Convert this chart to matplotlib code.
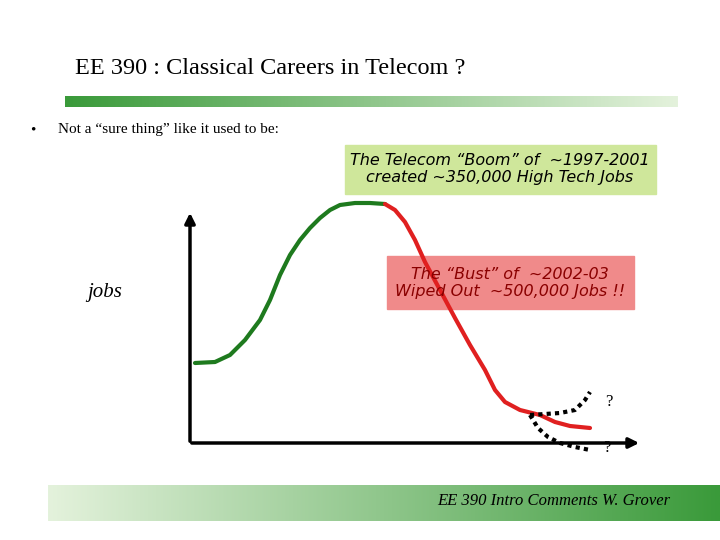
import matplotlib.pyplot as plt
import numpy as np
from matplotlib.colors import LinearSegmentedColormap

# curve points (pixel coordinates)
boom_x = [195, 215, 230, 245, 260, 270, 280, 290, 300, 310, 320, 330, 340, 355, 370, 385]
boom_y = [363, 362, 355, 340, 320, 300, 275, 255, 240, 228, 218, 210, 205, 203, 203, 204]
bust_x = [385, 395, 405, 415, 425, 440, 455, 470, 485, 495, 505, 520, 540, 555, 570, 590]
bust_y = [204, 210, 222, 240, 262, 290, 318, 345, 370, 390, 402, 410, 415, 422, 426, 428]
up_x = [530, 545, 560, 575, 585, 590]
up_y = [415, 414, 413, 410, 400, 392]
down_x = [530, 538, 548, 560, 575, 590]
down_y = [415, 428, 437, 443, 447, 450]

fig = plt.figure(figsize=(7.2, 5.4), dpi=100)
ax = fig.add_axes([0, 0, 1, 1])
ax.set_xlim(0, 720)
ax.set_ylim(540, 0)
ax.axis('off')

grad = np.linspace(0, 1, 256).reshape(1, -1)
cmap = LinearSegmentedColormap.from_list('g', ['#3a9a3a', '#e4f2dc'])
ax.imshow(grad, cmap=cmap, extent=[65, 678, 107, 96], aspect='auto')
ax.imshow(grad[:, ::-1], cmap=cmap, extent=[48, 720, 521, 485], aspect='auto')
ax.set_xlim(0, 720)
ax.set_ylim(540, 0)

ax.text(75, 68, 'EE 390 : Classical Careers in Telecom ?', fontsize=17.5,
        family='Liberation Serif', va='center')
ax.text(30, 130, '•', fontsize=11, family='Liberation Serif', va='center')
ax.text(58, 130, 'Not a \u201csure thing\u201d like it used to be:', fontsize=11,
        family='Liberation Serif', va='center')

# axes arrows
ax.annotate('', xy=(190, 210), xytext=(190, 444),
            arrowprops=dict(arrowstyle='-|>', lw=2.5, color='black', mutation_scale=15))
ax.annotate('', xy=(642, 443), xytext=(189, 443),
            arrowprops=dict(arrowstyle='-|>', lw=2.5, color='black', mutation_scale=15))

ax.plot(boom_x, boom_y, color='#1e7a1e', lw=3, solid_capstyle='round')
ax.plot(bust_x, bust_y, color='#e02020', lw=3, solid_capstyle='round')
ax.plot(up_x, up_y, color='black', lw=3, ls=(0, (1, 1)))
ax.plot(down_x, down_y, color='black', lw=3, ls=(0, (1, 1)))

ax.text(605, 402, '?', fontsize=12, family='Liberation Serif', va='center')
ax.text(603, 448, '?', fontsize=12, family='Liberation Serif', va='center')
ax.text(105, 293, 'jobs', fontsize=15, style='italic', family='Liberation Serif',
        ha='center', va='center')

ax.add_patch(plt.Rectangle((345, 145), 311, 49, color='#cfe79b'))
ax.text(500, 169, 'The Telecom \u201cBoom\u201d of  ~1997-2001\ncreated ~350,000 High Tech Jobs',
        fontsize=11.5, style='italic', ha='center', va='center', linespacing=1.15)
ax.add_patch(plt.Rectangle((387, 256), 247, 53, color='#f08a8a'))
ax.text(510, 283, 'The \u201cBust\u201d of  ~2002-03\nWiped Out  ~500,000 Jobs !!',
        fontsize=11.5, style='italic', ha='center', va='center', color='#8a0000',
        linespacing=1.15)

ax.text(670, 501, 'EE 390 Intro Comments W. Grover', fontsize=12, style='italic',
        family='Liberation Serif', ha='right', va='center')

fig.savefig('out.png', dpi=100)
